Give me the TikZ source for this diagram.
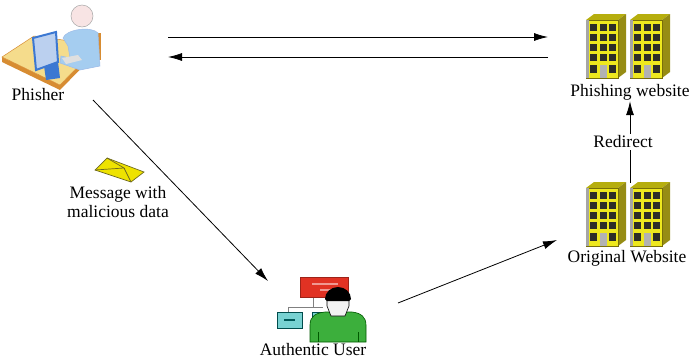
\documentclass[tikz,border=0pt]{standalone}
\usepackage{fontspec}
\setmainfont{Liberation Serif}
\usetikzlibrary{positioning}
\usetikzlibrary{arrows.meta}

\definecolor{bldgyellow}{RGB}{238,232,30}
\definecolor{bldgside}{RGB}{150,140,20}
\definecolor{bldgedge}{RGB}{120,110,10}
\definecolor{bldgwin}{RGB}{45,45,40}
\definecolor{desktan}{RGB}{245,220,140}
\definecolor{deskedge}{RGB}{215,140,50}
\definecolor{shirtblue}{RGB}{165,205,240}
\definecolor{skin}{RGB}{248,228,228}
\definecolor{screenblue}{RGB}{60,120,210}
\definecolor{userred}{RGB}{225,50,35}
\definecolor{userteal}{RGB}{120,210,210}
\definecolor{usergreen}{RGB}{60,175,60}

% one block of flats, top left corner of the front at (#1,#2)
\newcommand{\bldg}[2]{%
  \begin{scope}[shift={(#1,#2)}]
    \fill[bldgside!70!yellow] (0,0) -- (8,-6) -- (40,-6) -- (32,0) -- cycle;
    \fill[bldgside] (32,0) -- (40,-6) -- (40,52) -- (32,58) -- cycle;
    \fill[bldgyellow,draw=bldgedge,line width=0.6] (0,0) rectangle (32,58);
    \fill[gray!70] (0,0) rectangle (2.5,58);
    \foreach \i in {0,1,2}
      \foreach \j in {0,...,3}
        \fill[bldgwin] (4+\i*9.5,4+\j*10) rectangle ++(7,7);
    \fill[bldgwin] (4,45) rectangle ++(7,8);
    \fill[gray!60] (13.5,45) rectangle ++(7,13);
    \fill[bldgwin] (23,45) rectangle ++(7,8);
  \end{scope}}

\begin{document}
\begin{tikzpicture}[x=1pt,y=-1pt,
  every node/.style={font=\fontsize{17.5}{20}\selectfont},
  >={Latex[length=14,width=8]},
  link/.style={->,line width=0.8},
  iconbox/.style={inner sep=0,minimum width=#1},
  lbl/.style={inner sep=1pt}]
\useasboundingbox (0,0) rectangle (690,362);

% --- phisher at the desk
\fill[deskedge] (2,57) -- (60,85) -- (99,45) -- (99,50) -- (60,90) -- (2,62) -- cycle;
\fill[desktan,draw=deskedge,line width=0.5] (2,57) -- (34,36) -- (99,45) -- (60,85) -- cycle;
\fill[deskedge] (93,33) rectangle (101,60);
\fill[shirtblue,draw=screenblue!50,line width=0.5]
  (63,38) .. controls (66,29) and (92,26) .. (98,33) -- (100,66) -- (80,70)
  -- (60,63) -- (61,56) -- (70,58) -- (68,46) -- cycle;
\fill[skin,draw=gray!70,line width=0.5] (82,16) circle (11);
\fill[gray!25] (62,58) -- (78,55) -- (82,60) -- (66,64) -- cycle;
\fill[screenblue] (44,66) -- (58,62) -- (60,78) -- (46,80) -- cycle;
\fill[screenblue!35,draw=screenblue,line width=2] (33,38) -- (56,32) -- (58,62) -- (36,70) -- cycle;
\node[iconbox=100] (phisher) at (52,45) {};
\node[lbl] (phisherlbl) at (38,95) {Phisher};

% --- the two websites
\bldg{586}{20}
\bldg{630}{20}
\node[iconbox=90] (fake) at (630,48) {};
\node[lbl] (fakelbl) at (630,92) {Phishing website};

\bldg{586}{188}
\bldg{630}{188}
\node[iconbox=90,minimum height=64] (orig) at (630,215) {};
\node[lbl] (origlbl) at (627,258) {Original Website};

% --- authentic user
\draw[gray,line width=0.8] (313,297) -- (313,307) (288,307) -- (323,307) (288,307) -- (288,312);
\fill[userred,draw=userred!70!black,line width=0.5] (300,277) rectangle (348,297);
\draw[userred!50!white,line width=2] (312,284) -- (338,284) (320,290) -- (340,290);
\fill[userteal,draw=teal!60!black,line width=0.5] (277,312) rectangle (302,328);
\draw[teal!70!black,line width=2] (284,320) -- (295,320);
\fill[userteal,draw=teal!60!black,line width=0.5] (312,312) rectangle (330,328);
\fill[usergreen,draw=green!35!black,line width=0.6]
  (310,342) -- (310,325) .. controls (310,316) and (316,313) .. (325,312)
  -- (352,312) .. controls (361,313) and (366,317) .. (366,325) -- (366,342) -- cycle;
\draw[green!35!black,line width=0.6] (318,332) -- (318,342) (358,332) -- (358,342);
\fill[gray!10,draw=black,line width=0.6]
  (327,298) -- (349,298) -- (349,306) -- (345,316) -- (331,316) -- (327,306) -- cycle;
\fill[black] (325,299) arc (180:360:13 and 12) -- (349,301) -- (327,301) -- cycle;
\node[iconbox=92] (user) at (321,307) {};
\node[lbl] (userlbl) at (313,350) {Authentic User};

% --- envelope
\fill[yellow!85!olive,draw=olive!70!black,line width=0.7] (95,170) -- (107,158) -- (144,172) -- (131,182) -- cycle;
\draw[olive!70!black,line width=0.7] (95,170) -- (124,168) -- (107,158) (124,168) -- (131,182);
\node[lbl,align=center] (msglbl) at (118,202) {Message with\\[-1pt]malicious data};

% --- arrows
\coordinate (toA) at (168,37);
\coordinate (toB) at (548,37);
\coordinate (backA) at (548,57);
\coordinate (backB) at (168,57);
\coordinate (msgA) at (93,100);
\coordinate (msgB) at (268,281);
\coordinate (visitA) at (398,303);
\coordinate (visitB) at (557,240);
\draw[link] (toA) -- (toB);
\draw[link] (backA) -- (backB);
\draw[link] (msgA) -- (msgB);
\draw[link] (visitA) -- (visitB);
\draw[link] (orig.north) -- (fakelbl.south)
  node[midway,fill=white,inner sep=2pt,xshift=-7pt] (redir) {Redirect};
\end{tikzpicture}
\end{document}
